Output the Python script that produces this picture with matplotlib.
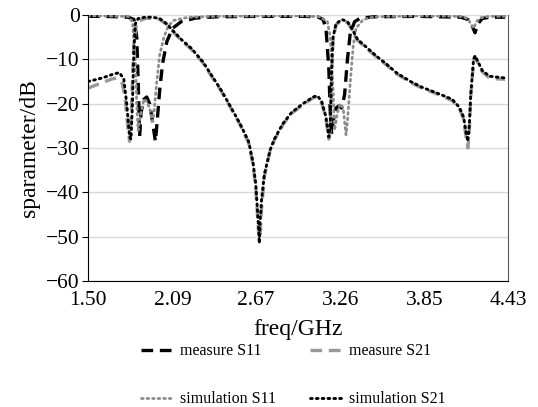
import matplotlib
matplotlib.use("Agg")
import matplotlib.pyplot as plt
import numpy as np

plt.rcParams['font.family'] = ['Liberation Serif', 'DejaVu Serif']

# measured S11 (black dashed)
f_ms11 = [1.50, 1.60, 1.70, 1.78, 1.82, 1.84, 1.85, 1.86, 1.87, 1.89, 1.91, 1.93, 1.95, 1.97, 1.98,
          2.00, 2.02, 2.05, 2.09, 2.15, 2.25, 2.40, 2.70, 3.00, 3.10, 3.14, 3.16, 3.18, 3.19, 3.20,
          3.21, 3.23, 3.25, 3.27, 3.29, 3.31, 3.33, 3.36, 3.40, 3.50, 3.80, 4.10, 4.15, 4.18, 4.20,
          4.22, 4.25, 4.30, 4.41]
s_ms11 = [-0.3, -0.3, -0.4, -0.5, -1.0, -5, -15, -27.5, -22, -19, -18.5, -20, -24, -28.5, -25,
          -17, -11, -6, -3, -1.5, -0.7, -0.4, -0.3, -0.3, -0.4, -1.0, -3, -12, -22, -27,
          -24, -21, -20.5, -21, -18, -10, -4, -1.5, -0.7, -0.4, -0.3, -0.5, -1.0, -2.5, -4,
          -2, -0.8, -0.5, -0.5]

# measured S21 (grey dashed)
f_ms21 = [1.50, 1.58, 1.66, 1.70, 1.74, 1.76, 1.78, 1.79, 1.80, 1.81, 1.82, 1.84, 1.90, 1.96, 2.00,
          2.05, 2.10, 2.15, 2.22, 2.30, 2.36, 2.43, 2.50, 2.56, 2.62, 2.65, 2.67, 2.69, 2.70, 2.71,
          2.73, 2.77, 2.80, 2.86, 2.92, 3.00, 3.07, 3.10, 3.13, 3.16, 3.18, 3.19, 3.20, 3.21, 3.23,
          3.27, 3.31, 3.34, 3.38, 3.45, 3.52, 3.58, 3.65, 3.75, 3.83, 3.95, 4.04, 4.09, 4.12, 4.14,
          4.15, 4.16, 4.17, 4.19, 4.20, 4.22, 4.25, 4.30, 4.35, 4.41]
s_ms21 = [-16.5, -15.5, -14.5, -14.2, -15.5, -19, -26, -28.5, -24, -15, -6, -1.5, -0.8, -0.7, -1.0,
          -2.2, -4.0, -5.7, -7.7, -10.7, -13.7, -17.2, -21.2, -24.7, -28.8, -33.5, -39, -49, -50.5, -44,
          -36.5, -30.7, -28.2, -24.7, -22.2, -20.2, -18.7, -18.4, -19.8, -23.5, -28, -26, -13, -5.5, -2.2,
          -1.2, -1.7, -3.2, -5.7, -7.7, -9.7, -11.2, -13.2, -15.2, -16.5, -18, -19.3, -21, -23.5, -28,
          -30, -26, -18.5, -10.2, -9.4, -10.8, -12.8, -14.2, -14.4, -14.5]

# simulated S11 (grey dotted)
f_ss11 = [1.50, 1.60, 1.70, 1.78, 1.81, 1.83, 1.84, 1.85, 1.87, 1.89, 1.91, 1.93, 1.95, 1.96, 1.98,
          2.00, 2.03, 2.06, 2.10, 2.20, 2.40, 2.70, 3.00, 3.12, 3.17, 3.19, 3.21, 3.22, 3.24, 3.26,
          3.28, 3.30, 3.31, 3.33, 3.35, 3.37, 3.42, 3.50, 3.80, 4.10, 4.15, 4.17, 4.19, 4.21, 4.24,
          4.30, 4.41]
s_ss11 = [-0.2, -0.2, -0.3, -0.3, -1.5, -10, -20, -26, -22, -19, -19.5, -21, -24, -22, -15,
          -9, -5, -2.5, -1.2, -0.5, -0.3, -0.2, -0.2, -0.4, -1.5, -5, -17, -26, -22, -20,
          -21, -27, -24, -15, -7, -3, -1, -0.4, -0.2, -0.3, -0.8, -2, -3, -1.5, -0.6,
          -0.3, -0.3]

# simulated S21 (black dotted)
f_ss21 = [1.50, 1.60, 1.68, 1.72, 1.75, 1.77, 1.79, 1.80, 1.81, 1.82, 1.83, 1.85, 1.90, 1.95, 2.00,
          2.05, 2.10, 2.15, 2.22, 2.30, 2.36, 2.43, 2.50, 2.56, 2.62, 2.65, 2.67, 2.69, 2.695, 2.70,
          2.71, 2.73, 2.77, 2.80, 2.86, 2.92, 3.00, 3.07, 3.10, 3.13, 3.16, 3.18, 3.19, 3.20, 3.21,
          3.23, 3.27, 3.31, 3.34, 3.38, 3.45, 3.52, 3.58, 3.65, 3.75, 3.83, 3.95, 4.04, 4.09, 4.12,
          4.14, 4.15, 4.16, 4.17, 4.19, 4.20, 4.22, 4.25, 4.30, 4.35, 4.41]
s_ss21 = [-15.0, -14.2, -13.3, -13.0, -14.5, -20, -27.5, -28, -20, -8, -2, -0.8, -0.5, -0.5, -0.8,
          -2.0, -3.8, -5.5, -7.5, -10.5, -13.5, -17, -21, -24.5, -28.5, -33, -38, -48, -51.5, -47,
          -42, -36, -30.5, -28, -24.5, -22, -20, -18.5, -18.2, -19.5, -23, -27.5, -25, -12, -5,
          -2, -1.0, -1.5, -3, -5.5, -7.5, -9.5, -11, -13, -15, -16.3, -17.8, -19, -20.8, -23,
          -27, -28.5, -25, -18, -10, -9.2, -10.5, -12.5, -13.8, -14, -14.2]

x_ticks = [1.50, 2.09, 2.67, 3.26, 3.85, 4.43]
x_ticklabels = ['1.50', '2.09', '2.67', '3.26', '3.85', '4.43']
y_ticks = [0, -10, -20, -30, -40, -50, -60]

fig = plt.figure(figsize=(5.38, 4.07), dpi=100)
ax = fig.add_axes([88/538, 1-281/407, 420/538, 266/407])

l1, = ax.plot(f_ms11, s_ms11, color='black', lw=2.4, ls=(0, (3.5, 2.0)), label='measure S11')
l2, = ax.plot(f_ms21, s_ms21, color='#999999', lw=2.4, ls=(0, (3.5, 2.0)), label='measure S21')
l3, = ax.plot(f_ss11, s_ss11, color='#8c8c8c', lw=2.0, ls=(0, (0.6, 1.4)), dash_capstyle='round',
              label='simulation S11')
l4, = ax.plot(f_ss21, s_ss21, color='black', lw=2.1, ls=(0, (0.6, 1.4)), dash_capstyle='round',
              label='simulation S21')

ax.set_xlim(1.50, 4.43)
ax.set_ylim(-60, 0)
ax.set_xticks(x_ticks)
ax.set_xticklabels(x_ticklabels)
ax.set_yticks(y_ticks)
ax.tick_params(axis='x', length=0, labelsize=15.5, pad=7)
ax.tick_params(axis='y', length=4, labelsize=15.5, pad=2)
ax.yaxis.grid(True, color='#d9d9d9', lw=1)
ax.set_axisbelow(True)
ax.spines['top'].set_visible(False)
ax.spines['right'].set_color('#595959')
ax.spines['left'].set_color('black')
ax.spines['bottom'].set_color('black')
ax.set_xlabel('freq/GHz', fontsize=17, labelpad=7)
ax.set_ylabel('sparameter/dB', fontsize=17, labelpad=4)

fig.legend([l1, l3, l2, l4], ['measure S11', 'simulation S11', 'measure S21', 'simulation S21'],
           ncol=2, loc='center', bbox_to_anchor=(0.545, 0.078), frameon=False,
           fontsize=11.5, handlelength=2.0, handletextpad=0.45, labelspacing=2.0,
           columnspacing=2.15)

fig.savefig('out.png', dpi=100)
